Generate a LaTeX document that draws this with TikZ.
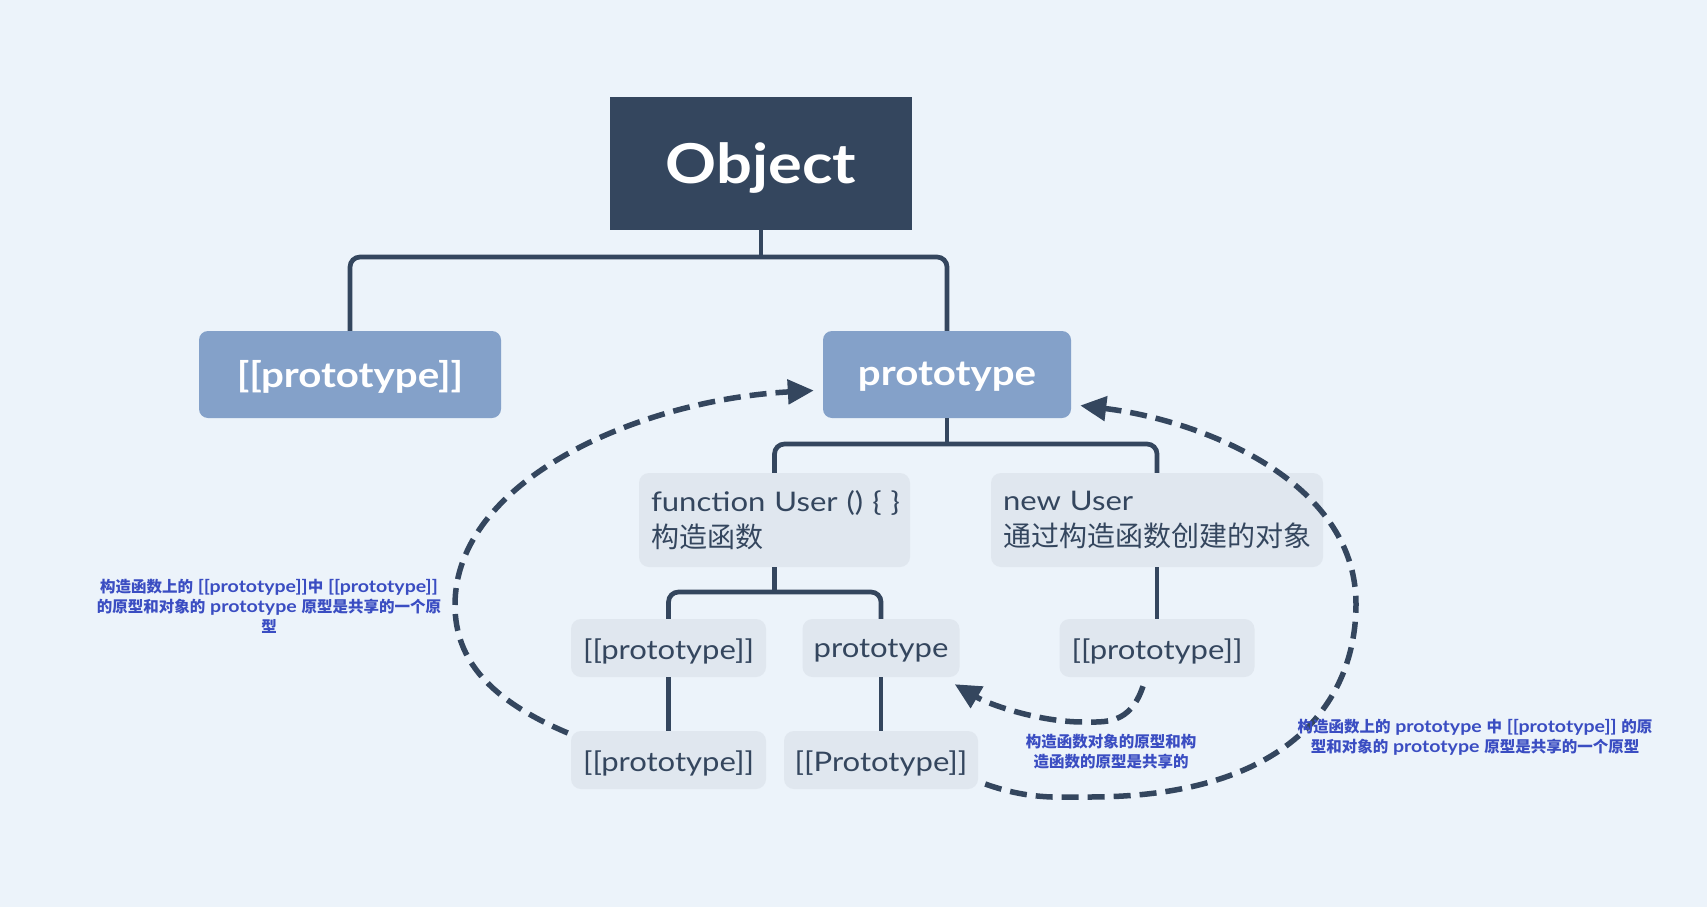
\documentclass[tikz,border=0pt]{standalone}
\usepackage{fontspec}
\setmainfont{Lato}
\newfontfamily\wide{Lato}[FakeStretch=1.15]
\newfontfamily\cjk{Noto Sans CJK SC}
\usetikzlibrary{arrows.meta,calc}
\definecolor{bgc}{HTML}{ECF3FA}
\definecolor{navy}{HTML}{34465E}
\definecolor{bigc}{HTML}{84A1C9}
\definecolor{smallc}{HTML}{E0E7EF}
\definecolor{lblc}{HTML}{3A4DC2}
\newcommand{\zh}[1]{{\cjk\fontsize{28}{36}\selectfont #1}}
\newcommand{\lz}[1]{{\cjk\fontsize{15.5}{20}\selectfont\bfseries #1}}
\newcommand{\lo}[2]{\raisebox{-#1pt}[\height][\depth]{#2}}
\tikzset{
  x=1pt,y=-1pt,
  rootbox/.style={fill=navy,text=white,font=\wide\fontsize{55}{64}\selectfont\bfseries,minimum width=302pt,minimum height=133pt,inner sep=0pt},
  bigbox/.style={fill=bigc,text=white,rounded corners=9pt,font=\wide\fontsize{35}{40}\selectfont\bfseries,minimum height=87pt,inner sep=0pt},
  smallbox/.style={fill=smallc,text=navy,rounded corners=10pt,font=\wide\fontsize{27}{34}\selectfont,minimum height=58pt,inner sep=0pt},
  textbox/.style={fill=smallc,text=navy,rounded corners=10pt,font=\wide\fontsize{27}{36}\selectfont,minimum height=94pt,inner xsep=12pt,inner ysep=0pt,align=left},
  conn/.style={draw=navy,line width=4.7pt,rounded corners=10pt},
  stem/.style={draw=navy,line width=4.7pt},
  dasharrow/.style={draw=navy,line width=5.5pt,dash pattern=on 17pt off 9pt,-{Triangle[length=26pt,width=24pt]}},
  lbl/.style={text=lblc,font=\wide\fontsize{17}{20}\selectfont\bfseries,align=center,inner sep=0pt}
}
\begin{document}
\begin{tikzpicture}
\fill[bgc] (0,0) rectangle (1707,907);
\useasboundingbox (0,0) rectangle (1707,907);

\node[rootbox] (obj) at (761,163.5) {\lo{5}{Object}};
\node[bigbox,minimum width=302pt] (pl) at (350,374.5) {\lo{2}{[[prototype]]}};
\node[bigbox,minimum width=248pt] (pr) at (947,374.5) {\lo{2}{prototype}};
\node[textbox,text width=247pt] (fn) at (774.5,520) {\mbox{function User () \{ \}}\\\zh{构造函数}};
\node[textbox,text width=308pt] (nu) at (1157,520) {new User\\\zh{通过构造函数创建的对象}};
\node[smallbox,minimum width=195pt] (p1) at (668.5,648) {\lo{3}{[[prototype]]}};
\node[smallbox,minimum width=157pt] (p2) at (881,648) {\lo{3}{prototype}};
\node[smallbox,minimum width=195pt] (p3) at (1157,648) {\lo{3}{[[prototype]]}};
\node[smallbox,minimum width=195pt] (p4) at (668.5,760) {\lo{3}{[[prototype]]}};
\node[smallbox,minimum width=194pt] (p5) at (881,760) {\lo{3}{[[Prototype]]}};

\coordinate (b1) at (761,257);
\coordinate (b2) at (947,444);
\coordinate (b3) at (774.5,592);

\draw[stem] (obj.south) -- (b1);
\draw[conn] (pl.north) |- (b1) -| (pr.north);
\draw[stem] (pr.south) -- (b2);
\draw[conn] (fn.north) |- (b2) -| (nu.north);
\draw[stem] (fn.south) -- (b3);
\draw[conn] (p1.north) |- (b3) -| (p2.north);
\draw[stem] (nu.south) -- (p3.north);
\draw[stem] (p1.south) -- (p4.north);
\draw[stem] (p2.south) -- (p5.north);

% dashed curves
\coordinate (c1s) at ([shift={(-3,-27)}]p4.west);
\coordinate (c1e) at ([shift={(-9,16)}]pr.west);
\draw[dasharrow] (c1s) .. controls (490,700) and (455,660) .. (455,605)
  .. controls (455,480) and (640,400) .. (c1e);

\coordinate (c2s) at ([shift={(7,24)}]p5.east);
\coordinate (c2e) at ([shift={(9,31)}]pr.east);
\draw[dasharrow] (c2s) .. controls (1030,800) and (1060,797) .. (1089,797)
  .. controls (1290,797) and (1356,700) .. (1356,604)
  .. controls (1356,480) and (1200,420) .. (c2e);

\coordinate (c3s) at ([shift={(-14,9)}]p3.south);
\coordinate (c3e) at ([shift={(-5,7)}]p2.south east);
\draw[dasharrow] (c3s) .. controls (1130,725) and (1105,722) .. (1083,722)
  .. controls (1040,722) and (990,705) .. (c3e);

\node[lbl] (l1) at (269,606) {\lz{构造函数上的} [[prototype]]\lz{中} [[prototype]]\\\lz{的原型和对象的} prototype \lz{原型是共享的一个原}\\\lz{型}};
\node[lbl] (l2) at (1111,752) {\lz{构造函数对象的原型和构}\\\lz{造函数的原型是共享的}};
\node[lbl] (l3) at (1475,737) {\lz{构造函数上的} prototype \lz{中} [[prototype]] \lz{的原}\\\lz{型和对象的} prototype \lz{原型是共享的一个原型}};
\end{tikzpicture}
\end{document}
